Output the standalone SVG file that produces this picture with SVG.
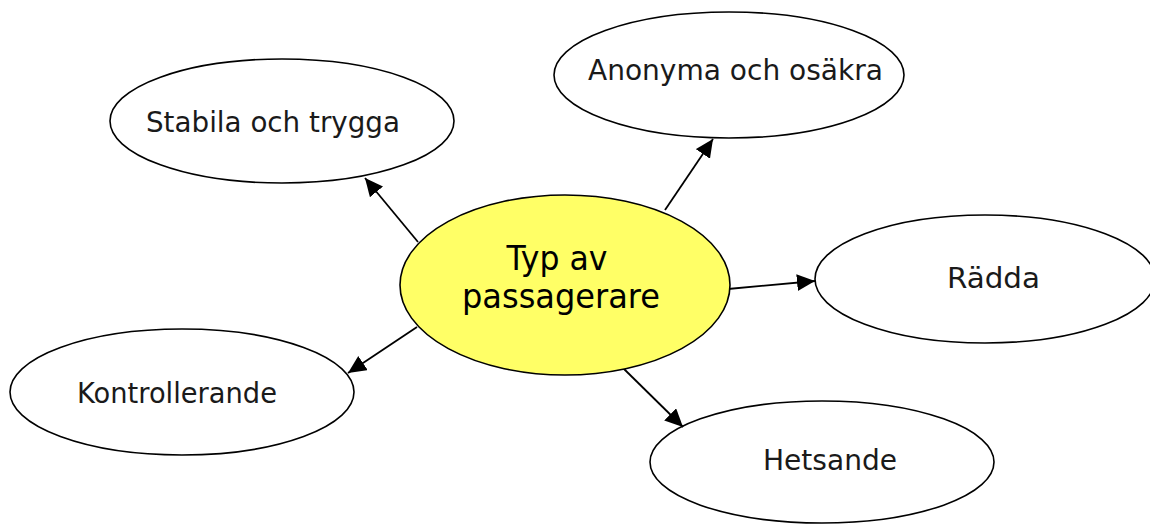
<svg xmlns="http://www.w3.org/2000/svg" width="1150" height="524" viewBox="0 0 1150 524">
  <style>
    .node { fill: #ffffff; stroke: #000000; stroke-width: 1.6; }
    .hub { fill: #ffff66; stroke: #000000; stroke-width: 1.6; }
    .label { font-family: "DejaVu Sans", "Liberation Sans", sans-serif; font-size: 29px; fill: #1a1a1a; text-anchor: middle; }
    .hub-label { font-family: "DejaVu Sans", "Liberation Sans", sans-serif; font-size: 34px; fill: #000000; text-anchor: middle; }
    .edge { stroke: #000000; stroke-width: 1.8; fill: none; marker-end: url(#arrow); }
  </style>
  <defs>
    <marker id="arrow" markerUnits="userSpaceOnUse" markerWidth="19" markerHeight="18" refX="18" refY="8.5" orient="auto">
      <path d="M0,0 L18,8.5 L0,17 Z" fill="#000000"/>
    </marker>
  </defs>
  <rect width="1150" height="524" fill="#ffffff"/>

  <!-- outer nodes -->
  <g id="stabila">
    <ellipse class="node" cx="282" cy="121" rx="172" ry="62"/>
    <text class="label" x="273" y="132" textLength="254" lengthAdjust="spacingAndGlyphs">Stabila och trygga</text>
  </g>
  <g id="anonyma">
    <ellipse class="node" cx="729" cy="75" rx="175" ry="63"/>
    <text class="label" x="735.5" y="80" textLength="295" lengthAdjust="spacingAndGlyphs">Anonyma och osäkra</text>
  </g>
  <g id="radda">
    <ellipse class="node" cx="985" cy="279" rx="170" ry="64"/>
    <text class="label" x="993.5" y="288" textLength="93" lengthAdjust="spacingAndGlyphs">Rädda</text>
  </g>
  <g id="kontrollerande">
    <ellipse class="node" cx="182" cy="392" rx="172" ry="63"/>
    <text class="label" x="177" y="403" textLength="200" lengthAdjust="spacingAndGlyphs">Kontrollerande</text>
  </g>
  <g id="hetsande">
    <ellipse class="node" cx="822" cy="462" rx="172" ry="61"/>
    <text class="label" x="830" y="470" textLength="134" lengthAdjust="spacingAndGlyphs">Hetsande</text>
  </g>

  <!-- connectors from the central node -->
  <g id="connectors">
    <line class="edge" x1="418" y1="242" x2="365" y2="178"/>
    <line class="edge" x1="665" y1="210" x2="713" y2="139"/>
    <line class="edge" x1="728" y1="289" x2="815" y2="281"/>
    <line class="edge" x1="417" y1="327" x2="348" y2="373"/>
    <line class="edge" x1="623" y1="368" x2="683" y2="427"/>
  </g>

  <!-- central node -->
  <g id="typ-av-passagerare">
    <ellipse class="hub" cx="565" cy="285" rx="165" ry="90"/>
    <text class="hub-label" x="557" y="270" textLength="101" lengthAdjust="spacingAndGlyphs">Typ av</text>
    <text class="hub-label" x="561" y="308" textLength="198" lengthAdjust="spacingAndGlyphs">passagerare</text>
  </g>
</svg>
